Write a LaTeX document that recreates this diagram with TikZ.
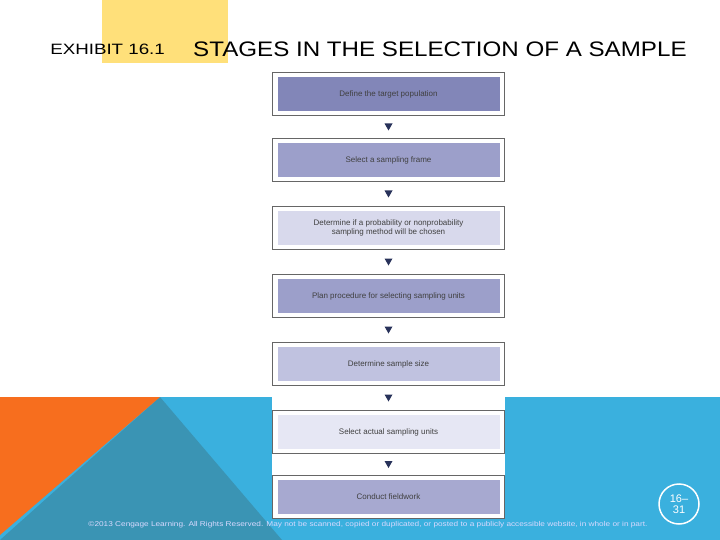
\documentclass[tikz,border=0pt]{standalone}
\usepackage{fontspec}
\setmainfont{Liberation Sans}
\definecolor{ylw}{RGB}{255,224,122}
\definecolor{sky}{RGB}{58,176,222}
\definecolor{teal2}{RGB}{58,148,180}
\definecolor{orng}{RGB}{247,110,30}
\definecolor{c1}{RGB}{130,134,184}
\definecolor{c2}{RGB}{156,159,202}
\definecolor{c3}{RGB}{216,217,236}
\definecolor{c4}{RGB}{156,159,202}
\definecolor{c5}{RGB}{192,194,224}
\definecolor{c6}{RGB}{230,231,244}
\definecolor{c7}{RGB}{167,169,208}
\definecolor{arr}{RGB}{40,50,90}
\begin{document}
\begin{tikzpicture}[x=1pt,y=-1pt,
  box/.style={draw=black!60,line width=0.6pt,fill=white,minimum width=232pt,minimum height=43pt,inner sep=0pt},
  inner/.style={minimum width=222pt,minimum height=34pt,inner sep=0pt,font=\fontsize{8}{9}\selectfont,text=black!75,align=center},
  tri/.style={fill=arr,draw=none}]
\useasboundingbox (0,0) rectangle (720,540);
\fill[white] (0,0) rectangle (720,540);
\fill[ylw] (102,0) rectangle (228,63);
\fill[sky] (0,397) rectangle (720,540);
\fill[teal2] (160,397) -- (282,540) -- (0,540) -- cycle;
\fill[orng] (0,397) -- (160,397) -- (0,535) -- cycle;
\fill[white] (272,70) rectangle (505,518);
\node[anchor=base west,font=\fontsize{15}{16}\selectfont,xscale=1.25,inner sep=0pt] (ex) at (50,55) {EXHIBIT 16.1};
\node[anchor=base west,font=\fontsize{21}{22}\selectfont,xscale=1.15,inner sep=0pt] (ttl) at (193,57) {STAGES IN THE SELECTION OF A SAMPLE};
\foreach \i/\y/\t in {1/94/{Define the target population},
  2/160/{Select a sampling frame},
  3/228/{Determine if a probability or nonprobability\\sampling method will be chosen},
  4/296/{Plan procedure for selecting sampling units},
  5/364/{Determine sample size},
  6/432/{Select actual sampling units},
  7/497/{Conduct fieldwork}}{
  \node[box] (b\i) at (388.5,\y) {};
  \node[inner,fill=c\i] (t\i) at (b\i.center) {\t};
}
\foreach \i [evaluate=\i as \j using int(\i+1)] in {1,...,6}{
  \path (b\i.south) -- (b\j.north) coordinate[pos=0.5] (m\i);
  \fill[tri] ([shift={(-4,-3.5)}]m\i) -- ([shift={(4,-3.5)}]m\i) -- ([shift={(0,3.5)}]m\i) -- cycle;
}
\node[font=\fontsize{7}{7}\selectfont,xscale=1.18,text=white!85!blue,inner sep=0pt] (cp) at (368,525) {©2013 Cengage Learning. All Rights Reserved. May not be scanned, copied or duplicated, or posted to a publicly accessible website, in whole or in part.};
\node[circle,draw=white,line width=1.5pt,minimum size=40pt,inner sep=0pt,align=center,text=white,font=\fontsize{11}{11}\selectfont] (pg) at (679,504) {16–\\31};
\end{tikzpicture}
\end{document}
